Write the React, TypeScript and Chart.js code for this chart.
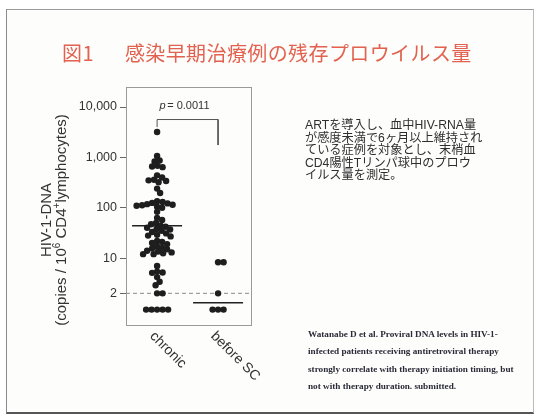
import React, { useEffect, useRef } from "react";
import { Chart, registerables } from "chart.js";
Chart.register(...registerables);

// ---------- data ----------
const categories = ["chronic", "before SC"];
const chronicValues = [
  3200, 1070, 870, 830, 680, 660, 640, 440, 400, 360, 350, 340, 320, 240, 196,
  135, 130, 125, 122, 118, 115, 112, 110, 105, 100, 83, 63, 57, 50, 47, 44, 42,
  40, 38, 37, 35, 33, 31, 29, 28, 27, 22, 21, 20, 19, 17, 16, 15.5, 15, 14,
  13.5, 13, 12.5, 12, 12, 7, 5.4, 5.2, 5.1, 4.2, 3.4, 2.9, 2, 2, 0.95, 0.95,
  0.95, 0.95, 0.95,
];
const beforeScValues = [8.3, 8.3, 2, 0.95, 0.95, 0.95];
const medianValues = [44, 1.3];
const yTickValues = [2, 10, 100, 1000, 10000];
const thresholdValue = 2;
const pValueText = "0.0011";
const titleNumber = "図1";
const titleText = "感染早期治療例の残存プロウイルス量";
const noteLines = [
  "ARTを導入し、血中HIV-RNA量",
  "が感度未満で6ヶ月以上維持され",
  "ている症例を対象とし、末梢血",
  "CD4陽性Tリンパ球中のプロウ",
  "イルス量を測定。",
];
const citeLines = [
  "Watanabe D et al. Proviral DNA levels in HIV-1-",
  "infected patients receiving antiretroviral therapy",
  "strongly correlate with therapy initiation timing, but",
  "not with therapy duration. submitted.",
];

// ---------- layout ----------
const W = 537;
const H = 416;
const AREA = { left: 126, top: 87, right: 251, bottom: 325 };
const X_MIN = -0.51;
const X_MAX = 1.54;
const Y_MIN = 0.47;
const Y_MAX = 25000;
const BRACKET_TOP = 5650;
const BRACKET_LEFT_END = 4000;
const BRACKET_RIGHT_END = 1760;
const P_LABEL_Y = 10500;
const MEDIAN_HALF = 0.41;
const DOT_GAP = 5.1;
const PX_PER_X = (AREA.right - AREA.left) / (X_MAX - X_MIN);
const PX_PER_DECADE =
  (AREA.bottom - AREA.top) / (Math.log10(Y_MAX) - Math.log10(Y_MIN));

const SANS = "'Liberation Sans', Arial, Helvetica, sans-serif";

// simple beeswarm layout: each dot takes the free slot nearest the centre
function swarm(values: number[], center: number) {
  const placed: { px: number; py: number }[] = [];
  const out: { x: number; y: number }[] = new Array(values.length);
  const order = values.map((_, i) => i).sort((a, b) => values[b] - values[a]);
  for (const i of order) {
    const py = Math.log10(values[i]) * PX_PER_DECADE;
    let best = 0;
    for (let k = 0; k < 400; k++) {
      const off = (k % 2 === 1 ? 1 : -1) * Math.ceil(k / 2) * 0.5;
      if (placed.every((p) => Math.hypot(p.px - off, p.py - py) >= DOT_GAP)) {
        best = off;
        break;
      }
    }
    placed.push({ px: best, py });
    out[i] = { x: center + best / PX_PER_X, y: values[i] };
  }
  return out;
}

const decorPlugin = {
  id: "decor",
  afterDraw(chart: any) {
    const { ctx, chartArea, scales } = chart;
    const xs = scales.x;
    const ys = scales.y;
    ctx.save();
    // plot box
    ctx.strokeStyle = "#9a9a9a";
    ctx.lineWidth = 1;
    ctx.strokeRect(
      Math.round(chartArea.left) + 0.5,
      Math.round(chartArea.top) + 0.5,
      Math.round(chartArea.right - chartArea.left),
      Math.round(chartArea.bottom - chartArea.top)
    );
    // p value label
    const px = xs.getPixelForValue(0.45);
    const py = ys.getPixelForValue(P_LABEL_Y);
    ctx.fillStyle = "#333";
    ctx.textBaseline = "middle";
    ctx.font = `italic 11px ${SANS}`;
    const pW = ctx.measureText("p").width;
    ctx.font = `11px ${SANS}`;
    const rest = "= " + pValueText;
    const rW = ctx.measureText(rest).width;
    const total = pW + 1.5 + rW;
    const sx = px - total / 2;
    ctx.font = `italic 11px ${SANS}`;
    ctx.textAlign = "left";
    ctx.fillText("p", sx, py);
    ctx.font = `11px ${SANS}`;
    ctx.fillText(rest, sx + pW + 1.5, py);

    // x category labels, rotated 45° clockwise
    ctx.font = `14px ${SANS}`;
    ctx.fillStyle = "#333";
    categories.forEach((c, i) => {
      const cx = xs.getPixelForValue(i);
      ctx.save();
      ctx.translate(cx - 5, chartArea.bottom + 9);
      ctx.rotate(Math.PI / 4);
      ctx.textAlign = "left";
      ctx.textBaseline = "middle";
      ctx.fillText(c, 0, 0);
      ctx.restore();
    });

    // y axis title (two lines, with superscripts)
    const cy = 220;
    ctx.save();
    ctx.translate(47, cy);
    ctx.rotate(-Math.PI / 2);
    ctx.textAlign = "center";
    ctx.textBaseline = "middle";
    ctx.font = `15px ${SANS}`;
    ctx.fillStyle = "#333";
    ctx.fillText("HIV-1-DNA", 0, 0);
    ctx.restore();

    const segs: { t: string; sup: boolean }[] = [
      { t: "(copies / 10", sup: false },
      { t: "6", sup: true },
      { t: " CD4", sup: false },
      { t: "+", sup: true },
      { t: "lymphocytes)", sup: false },
    ];
    const fontN = `15px ${SANS}`;
    const fontS = `10px ${SANS}`;
    let tw = 0;
    segs.forEach((s) => {
      ctx.font = s.sup ? fontS : fontN;
      tw += ctx.measureText(s.t).width;
    });
    ctx.save();
    ctx.translate(62, cy);
    ctx.rotate(-Math.PI / 2);
    ctx.textAlign = "left";
    ctx.textBaseline = "middle";
    ctx.fillStyle = "#333";
    let lx = -tw / 2;
    segs.forEach((s) => {
      ctx.font = s.sup ? fontS : fontN;
      ctx.fillText(s.t, lx, s.sup ? -5 : 0);
      lx += ctx.measureText(s.t).width;
    });
    ctx.restore();
    ctx.restore();
  },
};

export default function App() {
  const ref = useRef<HTMLCanvasElement | null>(null);
  useEffect(() => {
    if (!ref.current) return;
    const chart = new Chart(ref.current, {
      type: "scatter",
      data: {
        datasets: [
          {
            label: categories[0],
            data: swarm(chronicValues, 0),
            pointRadius: 3.2,
            pointBackgroundColor: "#1e1e1e",
            pointBorderWidth: 0,
          },
          {
            label: categories[1],
            data: swarm(beforeScValues, 1),
            pointRadius: 3.2,
            pointBackgroundColor: "#1e1e1e",
            pointBorderWidth: 0,
          },
          {
            type: "line",
            label: "median chronic",
            data: [
              { x: 0 - MEDIAN_HALF, y: medianValues[0] },
              { x: 0 + MEDIAN_HALF, y: medianValues[0] },
            ],
            borderColor: "#222",
            borderWidth: 1.4,
            pointRadius: 0,
          },
          {
            type: "line",
            label: "median before SC",
            data: [
              { x: 1 - MEDIAN_HALF, y: medianValues[1] },
              { x: 1 + MEDIAN_HALF, y: medianValues[1] },
            ],
            borderColor: "#222",
            borderWidth: 1.4,
            pointRadius: 0,
          },
          {
            type: "line",
            label: "threshold",
            data: [
              { x: X_MIN, y: thresholdValue },
              { x: X_MAX, y: thresholdValue },
            ],
            borderColor: "#8a8a8a",
            borderWidth: 1,
            borderDash: [4, 3],
            pointRadius: 0,
          },
          {
            type: "line",
            label: "bracket",
            data: [
              { x: 0, y: BRACKET_LEFT_END },
              { x: 0, y: BRACKET_TOP },
              { x: 1, y: BRACKET_TOP },
              { x: 1, y: BRACKET_RIGHT_END },
            ],
            borderColor: "#555",
            borderWidth: 1,
            pointRadius: 0,
            tension: 0,
          },
        ] as any,
      },
      options: {
        responsive: false,
        animation: false,
        events: [],
        layout: {
          padding: {
            left: 0,
            top: AREA.top,
            right: W - AREA.right,
            bottom: H - AREA.bottom,
          },
        },
        plugins: {
          legend: { display: false },
          tooltip: { enabled: false },
        },
        scales: {
          x: { type: "linear", min: X_MIN, max: X_MAX, display: false },
          y: {
            type: "logarithmic",
            min: Y_MIN,
            max: Y_MAX,
            afterBuildTicks: (s: any) => {
              s.ticks = yTickValues.map((v) => ({ value: v }));
            },
            afterFit: (s: any) => {
              s.width = AREA.left;
            },
            ticks: {
              autoSkip: false,
              padding: 3,
              color: "#333",
              font: { family: SANS, size: 12.5 },
              callback: (v: any) => Number(v).toLocaleString("en-US"),
            },
            grid: {
              drawOnChartArea: false,
              drawTicks: true,
              tickLength: 6,
              color: "#666",
            },
            border: { display: true, color: "#777" },
          },
        },
      } as any,
      plugins: [decorPlugin],
    });
    return () => chart.destroy();
  }, []);

  return (
    <div
      style={{
        position: "fixed",
        left: 0,
        top: 0,
        width: W,
        height: H,
        background: "#ffffff",
        overflow: "hidden",
      }}
    >
      <div
        style={{
          position: "absolute",
          left: 6,
          top: 9,
          width: 526,
          height: 402,
          borderTop: "1px solid #9a9a9a",
          borderLeft: "1px solid #8a8a8a",
          borderRight: "1px solid #bbb",
          borderBottom: "2px solid #555",
          background: "#fdfdfc",
        }}
      />
      <canvas
        ref={ref}
        width={W}
        height={H}
        style={{ position: "absolute", left: 0, top: 0, width: W, height: H }}
      />
      <div
        style={{
          position: "absolute",
          left: 62,
          top: 41,
          fontFamily: "'Noto Sans CJK JP', sans-serif",
          fontSize: 20,
          lineHeight: "24px",
          color: "#e2624f",
          whiteSpace: "nowrap",
          letterSpacing: 0.4,
        }}
      >
        <span>{titleNumber}</span>
        <span style={{ marginLeft: 31 }}>{titleText}</span>
      </div>
      <div
        style={{
          position: "absolute",
          left: 305,
          top: 119,
          fontFamily: "'Liberation Sans', 'Noto Sans CJK JP', sans-serif",
          fontSize: 12.2,
          lineHeight: "12.6px",
          color: "#2e2e2e",
          whiteSpace: "nowrap",
        }}
      >
        {noteLines.map((l, i) => (
          <div key={i}>{l}</div>
        ))}
      </div>
      <div
        style={{
          position: "absolute",
          left: 308,
          top: 326,
          fontFamily: "'Liberation Serif', 'Times New Roman', serif",
          fontWeight: "bold",
          fontSize: 9.2,
          lineHeight: "17.3px",
          color: "#2a2a38",
          whiteSpace: "nowrap",
        }}
      >
        {citeLines.map((l, i) => (
          <div key={i}>{l}</div>
        ))}
      </div>
    </div>
  );
}
